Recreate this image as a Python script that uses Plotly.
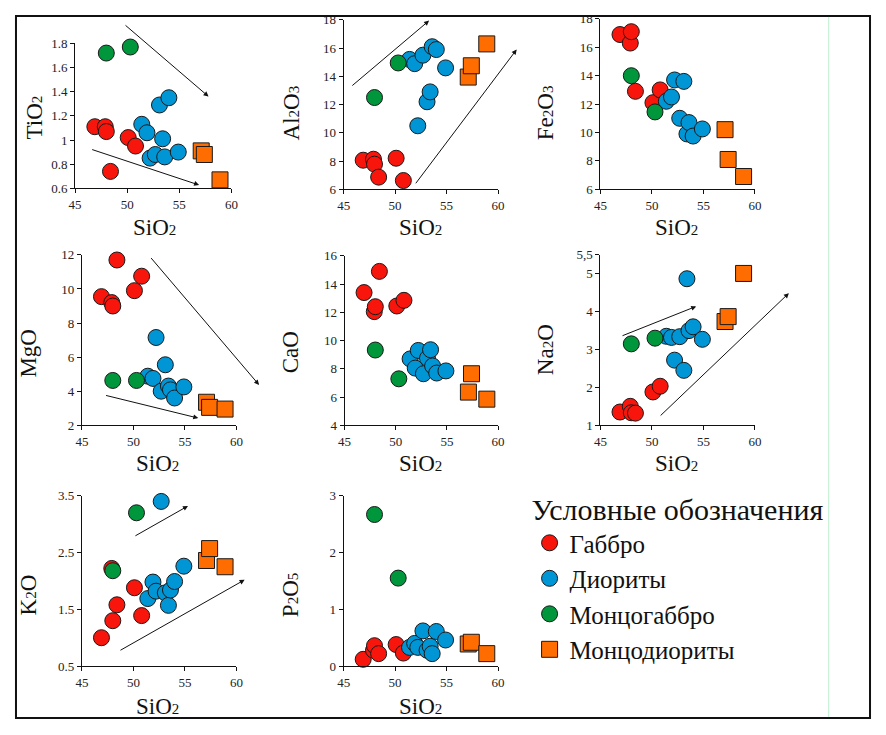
import plotly.graph_objects as go

# page is 886x735; the browser body keeps an 8px margin, so the figure is 16px smaller
W, H = 870, 719
OFF = 8

GROUPS = ["Габбро", "Диориты", "Монцогаббро", "Монцодиориты"]
COLORS = ["#F8160C", "#0096D6", "#00963C", "#FF6C00"]
SYMBOLS = ["circle", "circle", "circle", "square"]

# SiO2 per group
SIO2_GABBRO = [46.9, 47.9, 48.0, 48.4, 50.1, 50.8]
SIO2_DIORITE = [51.4, 51.9, 52.2, 52.7, 53.1, 53.4, 53.6, 54.0, 54.9]
SIO2_MZGABBRO = [48.0, 50.3]
SIO2_MZDIORITE = [57.1, 57.4, 58.9]

# oxides per group (same sample order as SiO2)
TIO2_GABBRO = [1.11, 1.11, 1.07, 0.74, 1.02, 0.95]
TIO2_DIORITE = [1.13, 1.06, 0.85, 0.88, 1.29, 1.01, 0.86, 1.35, 0.90]
TIO2_MZGABBRO = [1.72, 1.77]
TIO2_MZDIORITE = [0.91, 0.88, 0.67]

AL2O3_GABBRO = [8.06, 8.13, 7.78, 6.86, 8.2, 6.62]
AL2O3_DIORITE = [15.2, 14.9, 10.5, 15.5, 12.2, 12.9, 16.1, 15.9, 14.6]
AL2O3_MZGABBRO = [12.5, 14.95]
AL2O3_MZDIORITE = [13.95, 14.75, 16.3]

FE2O3_GABBRO = [16.9, 16.3, 17.1, 12.9, 12.1, 13.0]
FE2O3_DIORITE = [12.2, 12.5, 13.7, 11.0, 13.6, 9.9, 10.7, 9.75, 10.25]
FE2O3_MZGABBRO = [14.0, 11.45]
FE2O3_MZDIORITE = [10.2, 8.1, 6.9]

MGO_GABBRO = [9.55, 9.2, 9.0, 11.7, 9.9, 10.75]
MGO_DIORITE = [4.88, 4.75, 7.15, 4.0, 5.55, 4.3, 4.08, 3.6, 4.25]
MGO_MZGABBRO = [4.63, 4.63]
MGO_MZDIORITE = [3.35, 3.05, 2.95]

CAO_GABBRO = [13.4, 12.05, 12.4, 14.9, 12.45, 12.85]
CAO_DIORITE = [8.7, 8.05, 9.3, 7.65, 8.75, 9.35, 8.2, 7.7, 7.85]
CAO_MZGABBRO = [9.33, 7.29]
CAO_MZDIORITE = [6.35, 7.65, 5.85]

NA2O_GABBRO = [1.35, 1.5, 1.33, 1.32, 1.88, 2.03]
NA2O_DIORITE = [3.35, 3.32, 2.72, 3.34, 2.45, 4.87, 3.5, 3.6, 3.27]
NA2O_MZGABBRO = [3.15, 3.30]
NA2O_MZDIORITE = [3.74, 3.87, 5.01]

K2O_GABBRO = [1.0, 2.22, 1.3, 1.58, 1.88, 1.39]
K2O_DIORITE = [1.69, 1.98, 1.82, 3.40, 1.79, 1.57, 1.84, 1.99, 2.26]
K2O_MZGABBRO = [2.18, 3.2]
K2O_MZDIORITE = [2.36, 2.57, 2.25]

P2O5_GABBRO = [0.12, 0.28, 0.36, 0.22, 0.38, 0.23]
P2O5_DIORITE = [0.33, 0.40, 0.33, 0.62, 0.28, 0.35, 0.22, 0.61, 0.46]
P2O5_MZGABBRO = [2.67, 1.55]
P2O5_MZDIORITE = [0.39, 0.42, 0.22]

SIO2_TICKS = [45, 50, 55, 60]

# trend arrows: (x0, y0, x1, y1) in data units
ARROWS_TIO2 = [(49.7, 1.96, 57.8, 1.36), (46.5, 0.925, 56.9, 0.627)]
ARROWS_AL2O3 = [(45.7, 13.26, 53.3, 17.95), (51.9, 6.32, 61.8, 15.9)]
ARROWS_MGO = [(51.6, 11.9, 62.2, 4.37), (47.2, 3.77, 56.3, 2.42)]
ARROWS_NA2O = [(47.0, 3.35, 54.3, 4.14), (50.7, 1.22, 63.3, 4.49)]
ARROWS_K2O = [(50.05, 2.78, 55.3, 3.32), (48.6, 0.765, 60.8, 2.02)]

SIO2 = [SIO2_GABBRO, SIO2_DIORITE, SIO2_MZGABBRO, SIO2_MZDIORITE]

FONT = "Liberation Serif"


def px(x):
    return (x - OFF) / W


def py(y):
    return 1 - (y - OFF) / H


def chem(s):
    """Formula with small digits, e.g. Al2O3."""
    out = ""
    for ch in s:
        if ch.isdigit():
            out += "<span style='font-size:15px'>%s</span>" % ch
        else:
            out += ch
    return out


# label, values, y range, ticks, ticktext, plot box px (left, top, right, bottom), title pos px, arrows
panels = [
    ("TiO2", [TIO2_GABBRO, TIO2_DIORITE, TIO2_MZGABBRO, TIO2_MZDIORITE],
     [0.6, 1.8], [0.6, 0.8, 1, 1.2, 1.4, 1.6, 1.8], None,
     (69, 37, 228, 185), (28, 113), (150, 225), ARROWS_TIO2),
    ("Al2O3", [AL2O3_GABBRO, AL2O3_DIORITE, AL2O3_MZGABBRO, AL2O3_MZDIORITE],
     [6, 18], [6, 8, 10, 12, 14, 16, 18], None,
     (342, 13, 499, 186), (289, 108), (420, 225), ARROWS_AL2O3),
    ("Fe2O3", [FE2O3_GABBRO, FE2O3_DIORITE, FE2O3_MZGABBRO, FE2O3_MZDIORITE],
     [6, 18], [6, 8, 10, 12, 14, 16, 18], None,
     (603, 12, 760, 186), (548, 108), (680, 225), []),
    ("MgO", [MGO_GABBRO, MGO_DIORITE, MGO_MZGABBRO, MGO_MZDIORITE],
     [2, 12], [2, 4, 6, 8, 10, 12], None,
     (76, 253, 233, 427), (22, 353), (153, 466), ARROWS_MGO),
    ("CaO", [CAO_GABBRO, CAO_DIORITE, CAO_MZGABBRO, CAO_MZDIORITE],
     [4, 16], [4, 6, 8, 10, 12, 14, 16], None,
     (343, 254, 499, 427), (288, 352), (420, 466), []),
    ("Na2O", [NA2O_GABBRO, NA2O_DIORITE, NA2O_MZGABBRO, NA2O_MZDIORITE],
     [1, 5.5], [1, 2, 3, 4, 5, 5.5], ["1", "2", "3", "4", "5", "5,5"],
     (603, 253, 760, 427), (548, 350), (680, 466), ARROWS_NA2O),
    ("K2O", [K2O_GABBRO, K2O_DIORITE, K2O_MZGABBRO, K2O_MZDIORITE],
     [0.5, 3.5], [0.5, 1.5, 2.5, 3.5], None,
     (76, 499, 233, 673), (22, 600), (153, 714), ARROWS_K2O),
    ("P2O5", [P2O5_GABBRO, P2O5_DIORITE, P2O5_MZGABBRO, P2O5_MZDIORITE],
     [0, 3], [0, 1, 2, 3], None,
     (342, 499, 499, 673), (288, 600), (420, 714), []),
]

fig = go.Figure()
annotations = []
axis_common = dict(showline=True, linecolor="#111", linewidth=1, ticks="outside",
                   ticklen=4, tickcolor="#111", showgrid=False, zeroline=False,
                   tickfont=dict(family=FONT, size=13, color="#222"))

for i, (label, yvals, yrange, yticks, yticktext, box, ypos, xpos, arrows) in enumerate(panels):
    n = i + 1
    sfx = "" if n == 1 else str(n)
    for g in range(4):
        fig.add_trace(go.Scatter(
            x=SIO2[g], y=yvals[g], mode="markers", name=GROUPS[g],
            showlegend=(n == 1), cliponaxis=False,
            marker=dict(size=16, color=COLORS[g], symbol=SYMBOLS[g],
                        line=dict(color="#1a1a1a", width=1)),
            xaxis="x" + sfx, yaxis="y" + sfx))
    l, t, r, b = box
    fig.layout["xaxis" + sfx] = dict(axis_common, domain=[px(l), px(r)], range=[45, 60],
                                     tickvals=SIO2_TICKS, anchor="y" + sfx)
    fig.layout["yaxis" + sfx] = dict(axis_common, domain=[py(b), py(t)], range=yrange,
                                     tickvals=yticks, ticktext=yticktext, anchor="x" + sfx)
    annotations.append(dict(text=chem(label), x=px(ypos[0]), y=py(ypos[1]),
                            xref="paper", yref="paper", showarrow=False, textangle=-90,
                            xanchor="center", yanchor="middle",
                            font=dict(family=FONT, size=23, color="#111")))
    annotations.append(dict(text=chem("SiO2"), x=px(xpos[0]), y=py(xpos[1]),
                            xref="paper", yref="paper", showarrow=False,
                            xanchor="center", yanchor="middle",
                            font=dict(family=FONT, size=23, color="#111")))
    for x0, y0, x1, y1 in arrows:
        annotations.append(dict(x=x1, y=y1, ax=x0, ay=y0, xref="x" + sfx, yref="y" + sfx,
                                axref="x" + sfx, ayref="y" + sfx, text="", showarrow=True,
                                arrowhead=2, arrowsize=1, arrowwidth=1, arrowcolor="#111"))

fig.update_layout(
    width=W, height=H,
    margin=dict(l=0, r=0, t=0, b=0),
    paper_bgcolor="white", plot_bgcolor="white",
    annotations=annotations,
    showlegend=True,
    legend=dict(x=px(531), y=py(484), xanchor="left", yanchor="top",
                title=dict(text="Условные обозначения", font=dict(family=FONT, size=30, color="#111")),
                font=dict(family=FONT, size=25, color="#111"),
                itemsizing="trace", tracegroupgap=0, bgcolor="rgba(0,0,0,0)"),
    shapes=[
        dict(type="rect", xref="paper", yref="paper", x0=1 / W, x1=1 - 1 / W,
             y0=1 / H, y1=1 - 1 / H, line=dict(color="#111", width=2)),
        dict(type="line", xref="paper", yref="paper", x0=px(835), x1=px(835),
             y0=2 / H, y1=1 - 2 / H, line=dict(color="#BDEFD0", width=1)),
    ],
)

fig.write_html("out.html", config={"displayModeBar": False})
